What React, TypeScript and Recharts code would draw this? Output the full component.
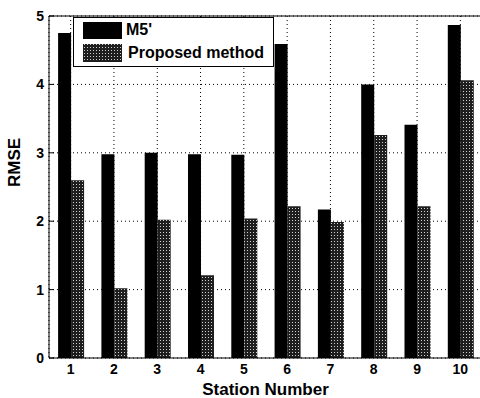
import React from 'react';
import {
  BarChart,
  Bar,
  XAxis,
  YAxis,
  CartesianGrid,
  ReferenceLine,
} from 'recharts';

const stations = ['1', '2', '3', '4', '5', '6', '7', '8', '9', '10'];
const m5Values = [4.75, 2.98, 3.0, 2.98, 2.97, 4.59, 2.17, 4.0, 3.41, 4.87];
const proposedValues = [2.6, 1.02, 2.02, 1.21, 2.04, 2.22, 1.99, 3.26, 2.22, 4.06];
const yTicks = [0, 1, 2, 3, 4, 5];

const data = stations.map((s, i) => ({
  station: s,
  m5: m5Values[i],
  proposed: proposedValues[i],
}));

const font = '"Liberation Sans", Arial, sans-serif';

// legend drawn as an overlay so it doesn't push the plot area down
const LegendBox = () => (
  <div
    style={{
      position: 'absolute',
      left: 73,
      top: 17,
      width: 201,
      height: 50,
      border: '1px solid #000',
      background: '#fff',
      fontFamily: font,
      fontWeight: 'bold',
      boxSizing: 'border-box',
    }}
  >
    <svg width={40} height={42} style={{ position: 'absolute', left: 9, top: 4 }}>
      <defs>
        <pattern id="legendDots" width={3} height={3} patternUnits="userSpaceOnUse">
          <rect width={3} height={3} fill="#1e1e1e" />
          <rect x={1} y={1} width={1} height={1} fill="#d0d0d0" />
        </pattern>
      </defs>
      <rect x={0} y={0} width={39} height={17} fill="#000" />
      <rect x={0} y={22} width={39} height={18} fill="url(#legendDots)" />
    </svg>
    <div style={{ position: 'absolute', left: 52, top: 3, fontSize: 16, lineHeight: '18px' }}>
      M5'
    </div>
    <div style={{ position: 'absolute', left: 54, top: 25, fontSize: 16, lineHeight: '19px' }}>
      Proposed method
    </div>
  </div>
);

export default function App() {
  return (
    <div style={{ position: 'absolute', left: 0, top: 0, width: 480, height: 398, overflow: 'hidden', background: '#fff' }}>
      <BarChart
        width={490}
        height={398}
        data={data}
        margin={{ top: 16, right: 8, left: 0, bottom: 0 }}
        barCategoryGap="21%"
        barGap={0}
      >
        <defs>
          <pattern id="dots" width={3} height={3} patternUnits="userSpaceOnUse">
            <rect width={3} height={3} fill="#1e1e1e" />
            <rect x={1} y={1} width={1} height={1} fill="#d0d0d0" />
          </pattern>
        </defs>
        <CartesianGrid stroke="#000" strokeDasharray="1 3" />
        <XAxis
          dataKey="station"
          stroke="#000"
          tickLine={false}
          tickSize={0}
          tickMargin={6}
          height={40}
          tick={{ fill: '#000', fontSize: 14, fontWeight: 'bold', fontFamily: font }}
          label={{
            value: 'Station Number',
            position: 'insideBottom',
            offset: 3,
            fill: '#000',
            fontSize: 17,
            fontWeight: 'bold',
            fontFamily: font,
          }}
        />
        <YAxis
          domain={[0, 5]}
          ticks={yTicks}
          width={49}
          stroke="#000"
          tickSize={-5}
          tickMargin={10}
          tick={{ fill: '#000', fontSize: 14, fontWeight: 'bold', fontFamily: font }}
          label={{
            value: 'RMSE',
            angle: -90,
            position: 'insideLeft',
            offset: 14,
            fill: '#000',
            fontSize: 17,
            fontWeight: 'bold',
            fontFamily: font,
          }}
        />
        <ReferenceLine y={5} stroke="#000" strokeDasharray="0" />
        <Bar dataKey="m5" name="M5'" fill="#000" isAnimationActive={false} />
        <Bar dataKey="proposed" name="Proposed method" fill="url(#dots)" isAnimationActive={false} />
      </BarChart>
      <LegendBox />
    </div>
  );
}
